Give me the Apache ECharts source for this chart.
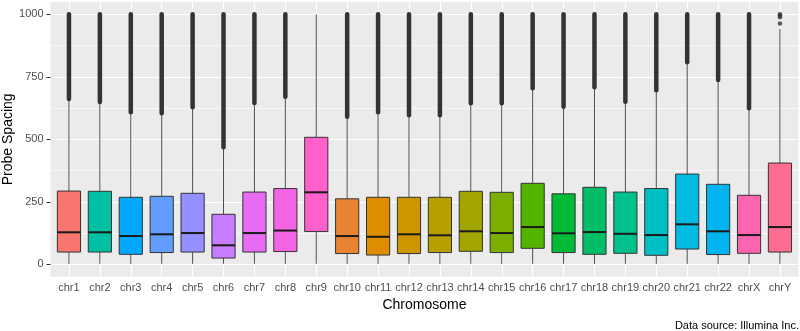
<!DOCTYPE html>
<html>
<head>
<meta charset="utf-8">
<style>
  html, body { margin: 0; padding: 0; background: #fff; }
  #chart { width: 800px; height: 331px; }
</style>
<script src="https://cdn.jsdelivr.net/npm/echarts@6.0.0/dist/echarts.min.js"></script>
</head>
<body>
<div id="chart"></div>
<script>
// box statistics (probe spacing, bp)
var chromosomes = ['chr1', 'chr2', 'chr3', 'chr4', 'chr5', 'chr6', 'chr7', 'chr8', 'chr9', 'chr10', 'chr11', 'chr12',
  'chr13', 'chr14', 'chr15', 'chr16', 'chr17', 'chr18', 'chr19', 'chr20', 'chr21', 'chr22', 'chrX', 'chrY'];
var whiskerLow = [2, 2, 2, 2, 2, 2, 2, 2, 2, 2, 2, 2, 2, 2, 2, 2, 2, 2, 2, 2, 2, 2, 2, 2];
var q1 = [49, 49, 40, 47, 49, 25, 49, 51, 131, 43, 37, 43, 47, 52, 47, 64, 47, 40, 44, 36, 61, 39, 44, 49];
var median = [128, 128, 113, 120, 125, 76, 125, 135, 288, 113, 110, 120, 116, 132, 125, 149, 124, 129, 122, 117, 160, 132, 117, 149];
var q3 = [293, 292, 268, 272, 284, 200, 289, 303, 508, 262, 268, 268, 268, 292, 288, 324, 282, 308, 289, 303, 361, 320, 276, 405];
var whiskerHigh = [661, 649, 608, 604, 628, 468, 645, 670, 1000, 590, 608, 596, 596, 644, 644, 704, 630, 708, 650, 696, 808, 737, 624, 942];
// dense outlier run: from whiskerHigh up to this value (null = none)
var outlierTop = [1000, 1000, 1000, 1000, 1000, 1000, 1000, 1000, null, 1000, 1000, 1000, 1000, 1000, 1000, 1000, 1000, 1000, 1000, 1000, 1000, 1000, 1000, null];
// the few single outliers of chrY
var chrYOutliers = [963, 988, 995, 1000];
var yTicks = [0, 250, 500, 750, 1000];

var fills = ['#F8766D', '#00C1A3', '#00A9FF', '#619CFF', '#9590FF', '#C77CFF', '#E76BF3', '#F564E3', '#FF61CC',
  '#EA8331', '#DE8C00', '#CD9600', '#B79F00', '#A3A500', '#7CAE00', '#53B400', '#00BA38', '#00BE67', '#00C08B',
  '#00BFC4', '#00BAE0', '#00B4F0', '#FF64B0', '#FF6C91'];

var font = 'Liberation Sans, Arial, sans-serif';

var boxData = chromosomes.map(function (c, i) {
  return [i, whiskerLow[i], q1[i], median[i], q3[i], whiskerHigh[i], outlierTop[i] == null ? '-' : outlierTop[i]];
});

var myChart = echarts.init(document.getElementById('chart'));

function renderBox(params, api) {
  var i = api.value(0);
  var pLo = api.coord([i, api.value(1)]);
  var pQ1 = api.coord([i, api.value(2)]);
  var pMed = api.coord([i, api.value(3)]);
  var pQ3 = api.coord([i, api.value(4)]);
  var pHi = api.coord([i, api.value(5)]);
  var w = api.size([1, 0])[0] * 0.75;
  var cx = pMed[0];
  var kids = [
    { type: 'line', shape: { x1: cx, y1: pQ3[1], x2: cx, y2: pHi[1] }, style: { stroke: '#4d4d4d', lineWidth: 1 } },
    { type: 'line', shape: { x1: cx, y1: pQ1[1], x2: cx, y2: pLo[1] }, style: { stroke: '#4d4d4d', lineWidth: 1 } },
    { type: 'rect', shape: { x: cx - w / 2, y: pQ3[1], width: w, height: pQ1[1] - pQ3[1] },
      style: { fill: fills[i], stroke: '#333333', lineWidth: 1 } },
    { type: 'line', shape: { x1: cx - w / 2, y1: pMed[1], x2: cx + w / 2, y2: pMed[1] },
      style: { stroke: '#1a1a1a', lineWidth: 2 } }
  ];
  var top = api.value(6);
  if (!isNaN(top)) {
    var pTop = api.coord([i, top]);
    kids.push({ type: 'line', shape: { x1: cx, y1: pHi[1], x2: cx, y2: pTop[1] },
      style: { stroke: '#333333', lineWidth: 4.5, lineCap: 'round' } });
  }
  return { type: 'group', children: kids };
}

var option = {
  animation: false,
  textStyle: { fontFamily: font },
  title: {
    text: 'Data source: Illumina Inc.',
    right: 1,
    top: 320,
    padding: 0,
    textStyle: { fontSize: 11, fontWeight: 'normal', color: '#000', fontFamily: font }
  },
  graphic: [
    { type: 'rect', z: -10, shape: { x: 50.5, y: 1.8, width: 748, height: 275 }, style: { fill: '#EBEBEB' } }
  ],
  grid: [
    { left: 53.5, right: 4.6, top: 14.3, bottom: 66.7, outerBoundsMode: 'none' },
    { left: 50.5, right: 1.5, top: 14.3, bottom: 66.7, outerBoundsMode: 'none' },
    { left: 69, right: 20, top: 1.8, bottom: 54.2, outerBoundsMode: 'none' }
  ],
  xAxis: [
    {
      gridIndex: 0,
      type: 'category',
      data: chromosomes,
      boundaryGap: true,
      offset: 12.5,
      axisLine: { show: false },
      axisTick: { alignWithLabel: true, length: 3.5, lineStyle: { color: '#333', width: 1 } },
      axisLabel: { margin: 6, color: '#4D4D4D', fontSize: 11, fontFamily: font, interval: 0 },
      splitLine: { show: false },
      name: 'Chromosome',
      nameLocation: 'middle',
      nameGap: 21,
      nameMoveOverlap: false,
      nameTextStyle: { fontSize: 14, color: '#000', fontFamily: font }
    },
    { gridIndex: 1, type: 'value', min: 0, max: 1, show: false },
    {
      gridIndex: 2,
      type: 'value',
      min: 0,
      max: 23,
      interval: 1,
      axisLine: { show: false },
      axisTick: { show: false },
      axisLabel: { show: false },
      splitLine: { show: true, lineStyle: { color: '#fff', width: 1.2 } }
    }
  ],
  yAxis: [
    { gridIndex: 0, type: 'value', min: 0, max: 1000, show: false },
    {
      gridIndex: 1,
      type: 'value',
      min: yTicks[0],
      max: yTicks[yTicks.length - 1],
      interval: 250,
      axisLine: { show: false },
      axisTick: { show: true, length: 4, lineStyle: { color: '#333', width: 1 } },
      axisLabel: { margin: 7, color: '#4D4D4D', fontSize: 11, fontFamily: font, formatter: function (v) { return String(v); } },
      splitLine: { show: true, lineStyle: { color: '#fff', width: 1.2 } },
      minorTick: { show: false, splitNumber: 2 },
      minorSplitLine: { show: true, lineStyle: { color: '#fff', width: 0.6 } },
      name: 'Probe Spacing',
      nameLocation: 'middle',
      nameGap: 35,
      nameMoveOverlap: false,
      nameTextStyle: { fontSize: 14, color: '#000', fontFamily: font }
    },
    { gridIndex: 2, type: 'value', min: 0, max: 1, show: false }
  ],
  series: [
    {
      type: 'custom',
      xAxisIndex: 0,
      yAxisIndex: 0,
      renderItem: renderBox,
      encode: { x: 0, y: [1, 2, 3, 4, 5] },
      data: boxData,
      z: 3
    },
    {
      type: 'scatter',
      xAxisIndex: 0,
      yAxisIndex: 0,
      symbolSize: 4.5,
      itemStyle: { color: '#333333' },
      data: chrYOutliers.map(function (v) { return ['chrY', v]; }),
      z: 4
    }
  ]
};

myChart.setOption(option);
window.addEventListener('resize', function () {
  myChart.resize();
});
</script>
</body>
</html>
